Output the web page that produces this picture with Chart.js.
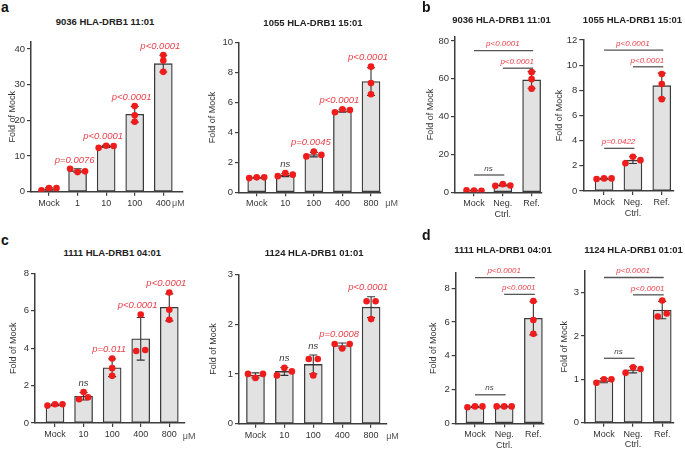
<!DOCTYPE html>
<html>
<head>
<meta charset="utf-8">
<script src="https://cdn.jsdelivr.net/npm/chart.js@4.4.0/dist/chart.umd.min.js"></script>
<style>
  html, body { margin:0; padding:0; background:#fff; }
  body { width:685px; height:449px; position:relative; overflow:hidden;
         font-family:"Liberation Sans", Arial, Helvetica, sans-serif; }
  .cv { position:absolute; }
  .ttl { position:absolute; transform:translate(-50%,-50%); white-space:nowrap;
         font-weight:bold; font-size:9.5px; line-height:1; color:#222; }
  .let { position:absolute; font-weight:bold; font-size:14px; line-height:1; color:#111; }
  .unit { position:absolute; transform:translate(-50%,-50%); white-space:nowrap;
          font-size:9px; line-height:1; color:#555; }
</style>
</head>
<body>
<script>
// ================= DATA =================
// Panel a – dose response
const a1Title = '9036 HLA-DRB1 11:01';
const a1Categories = ['Mock', '1', '10', '100', '400'];
const a1Means = [0.8, 5.9, 12.7, 21.7, 35.9];
const a1SD = [0.3, 0.5, 0.3, 2.2, 2.35];
const a1Replicates = [[0.4, 1.0, 1.0], [6.4, 5.5, 5.7], [12.3, 12.9, 12.8], [24.0, 21.4, 19.6], [38.3, 36.8, 33.6]];
const a1PLabels = ['', 'p=0.0076', 'p<0.0001', 'p<0.0001', 'p<0.0001'];
const a1YTicks = [0, 10, 20, 30, 40];

const a2Title = '1055 HLA-DRB1 15:01';
const a2Categories = ['Mock', '10', '100', '400', '800'];
const a2Means = [0.98, 1.15, 2.52, 5.45, 7.4];
const a2SD = [0.03, 0.1, 0.15, 0.1, 0.93];
const a2Replicates = [[0.95, 1.0, 1.0], [1.08, 1.28, 1.18], [2.4, 2.72, 2.5], [5.35, 5.55, 5.5], [8.4, 7.3, 6.55]];
const a2PLabels = ['', 'ns', 'p=0.0045', 'p<0.0001', 'p<0.0001'];
const a2YTicks = [0, 2, 4, 6, 8, 10];

// Panel b – controls
const bCategories = ['Mock', ['Neg.', 'Ctrl.'], 'Ref.'];
const b1Title = '9036 HLA-DRB1 11:01';
const b1Means = [0.9, 3.8, 59.4];
const b1SD = [0.1, 0.45, 4.4];
const b1Replicates = [[1.0, 0.9, 0.8], [3.4, 4.3, 3.6], [63.5, 59.8, 54.8]];
const b1Comparisons = [[0, 2, 74.9, 'p<0.0001'], [1, 2, 65.6, 'p<0.0001'], [0, 1, 9.15, 'ns']];
const b1YTicks = [0, 20, 40, 60, 80];

const b2Title = '1055 HLA-DRB1 15:01';
const b2Means = [0.98, 2.45, 8.37];
const b2SD = [0.03, 0.27, 1.0];
const b2Replicates = [[0.95, 1.0, 1.0], [2.2, 2.72, 2.45], [9.3, 8.5, 7.3]];
const b2Comparisons = [[0, 2, 11.19, 'p<0.0001'], [1, 2, 9.87, 'p<0.0001'], [0, 1, 3.39, 'p=0.0422']];
const b2YTicks = [0, 2, 4, 6, 8, 10, 12];

// Panel c – dose response
const c1Title = '1111 HLA-DRB1 04:01';
const c1Categories = ['Mock', '10', '100', '400', '800'];
const c1Means = [0.97, 1.43, 2.95, 4.5, 6.18];
const c1SD = [0.04, 0.2, 0.47, 1.14, 0.72];
const c1Replicates = [[0.93, 1.0, 1.0], [1.27, 1.65, 1.37], [3.45, 2.93, 2.52], [5.8, 3.85, 3.9], [6.97, 6.05, 5.52]];
const c1PLabels = ['', 'ns', 'p=0.011', 'p<0.0001', 'p<0.0001'];
const c1YTicks = [0, 2, 4, 6, 8];

const c2Title = '1124 HLA-DRB1 01:01';
const c2Categories = ['Mock', '10', '100', '400', '800'];
const c2Means = [0.97, 1.05, 1.19, 1.57, 2.34];
const c2SD = [0.05, 0.08, 0.19, 0.05, 0.21];
const c2Replicates = [[1.0, 0.92, 1.0], [0.97, 1.12, 1.05], [1.3, 0.97, 1.3], [1.6, 1.51, 1.6], [2.46, 2.1, 2.46]];
const c2PLabels = ['', 'ns', 'ns', 'p=0.0008', 'p<0.0001'];
const c2YTicks = [0, 1, 2, 3];

// Panel d – controls
const d1Title = '1111 HLA-DRB1 04:01';
const d1Means = [0.98, 1.0, 6.22];
const d1SD = [0.03, 0.02, 0.98];
const d1Replicates = [[0.95, 1.0, 1.0], [1.0, 1.0, 1.0], [7.25, 6.12, 5.3]];
const d1Comparisons = [[0, 2, 8.63, 'p<0.0001'], [1, 2, 7.64, 'p<0.0001'], [0, 1, 1.69, 'ns']];
const d1YTicks = [0, 2, 4, 6, 8];

const d2Title = '1124 HLA-DRB1 01:01';
const d2Means = [0.97, 1.22, 2.6];
const d2SD = [0.05, 0.07, 0.2];
const d2Replicates = [[0.92, 1.0, 1.0], [1.15, 1.28, 1.24], [2.45, 2.82, 2.52]];
const d2Comparisons = [[0, 2, 3.35, 'p<0.0001'], [1, 2, 2.95, 'p<0.0001'], [0, 1, 1.486, 'ns']];
const d2YTicks = [0, 1, 2, 3];

const yAxisTitle = 'Fold of Mock';
const doseUnit = 'μM';

// ================= LAYOUT (page pixels) =================
const LAYOUT = {
  a1: {canvas:[7,30,200,215],   area:[31,41.9,183,191.7],    yMax:42,   xMin:-0.63, xMax:4.69, title:[105,21.7],   unit:[178.3,202.5]},
  a2: {canvas:[207,30,400,215], area:[239,42.7,381,192.3],   yMax:10,   xMin:-0.62, xMax:4.35, title:[313,23.3],   unit:[391.7,202.5]},
  b1: {canvas:[425,25,556,225], area:[455,36.6,541.7,192.3], yMax:82.3, xMin:-0.66, xMax:2.35, title:[501.5,20]},
  b2: {canvas:[554,25,685,225], area:[583.3,40,673.3,191],   yMax:12,   xMin:-0.72, xMax:2.40, title:[632.5,20]},
  c1: {canvas:[8,262,205,449],  area:[35,273.3,185,423],     yMax:8,    xMin:-0.70, xMax:4.55, title:[112.3,253.3], unit:[189.2,435.5]},
  c2: {canvas:[208,262,405,449],area:[239,274.3,386.7,423.7],yMax:3,    xMin:-0.57, xMax:4.54, title:[314.2,253.3], unit:[392.5,435.5]},
  d1: {canvas:[428,258,556,449],area:[455.7,273.1,543.3,423.3],yMax:8.9,xMin:-0.66, xMax:2.34, title:[503,250]},
  d2: {canvas:[559,258,685,449],area:[585,271,673.3,422.7],  yMax:3.5,  xMin:-0.65, xMax:2.38, title:[633.5,250]}
};
const LETTERS = [['a',1,12],['b',422,12],['c',1,245],['d',422,240]];

// ================= RENDERING =================
Chart.defaults.font.family = '"Liberation Sans", Arial, Helvetica, sans-serif';
Chart.defaults.color = '#333';
const AXIS = '#3d3d3d';
const FONT = '"Liberation Sans", Arial, sans-serif';

// overlapping replicate points are spread sideways (pixel offsets)
function swarm(vals, pxPerUnit) {
  const order = vals.map((v, i) => i).sort((a, b) => vals[a] - vals[b]);
  const clusters = []; let cur = [order[0]];
  for (let k = 1; k < order.length; k++) {
    if ((vals[order[k]] - vals[order[k - 1]]) * pxPerUnit < 5) cur.push(order[k]);
    else { clusters.push(cur); cur = [order[k]]; }
  }
  clusters.push(cur);
  const off = vals.map(() => 0);
  clusters.forEach(c => {
    c.sort((a, b) => a - b);
    const n = c.length, d = n === 2 ? 9 : 7.5;
    c.forEach((id, j) => { off[id] = (j - (n - 1) / 2) * d; });
  });
  return off;
}

function addText(cls, text, x, y) {
  const el = document.createElement('div');
  el.className = cls; el.textContent = text;
  el.style.left = x + 'px'; el.style.top = y + 'px';
  document.body.appendChild(el);
}

function makePanel(p) {
  const L = p.layout;
  const [cl, ct, cr, cb] = L.canvas;
  const [al, at, ar, ab] = L.area;
  const W = cr - cl, H = cb - ct;
  const cv = document.createElement('canvas');
  cv.className = 'cv'; cv.width = W; cv.height = H;
  cv.style.left = cl + 'px'; cv.style.top = ct + 'px';
  cv.style.width = W + 'px'; cv.style.height = H + 'px';
  document.body.appendChild(cv);

  const pxPerUnit = (ab - at) / L.yMax;
  const pxPerCat = (ar - al) / (L.xMax - L.xMin);
  const bars = p.means.map((m, i) => ({x: i, y: m}));
  const dots = [];
  p.reps.forEach((vals, i) => {
    const off = swarm(vals, pxPerUnit);
    vals.forEach((v, k) => dots.push({x: i + off[k] / pxPerCat, y: v}));
  });

  const overlay = {
    id: 'overlay',
    afterDatasetDraw(chart, args) {
      if (args.meta.type !== 'bar') return;
      const {ctx} = chart; const xs = chart.scales.x, ys = chart.scales.y;
      ctx.save();
      ctx.strokeStyle = '#333'; ctx.lineWidth = 1.1;
      p.means.forEach((m, i) => {
        const px = xs.getPixelForValue(i);
        const y1 = ys.getPixelForValue(m + p.sd[i]);
        const y2 = ys.getPixelForValue(Math.max(0, m - p.sd[i]));
        ctx.beginPath();
        ctx.moveTo(px, y1); ctx.lineTo(px, y2);
        ctx.moveTo(px - 4, y1); ctx.lineTo(px + 4, y1);
        ctx.moveTo(px - 4, y2); ctx.lineTo(px + 4, y2);
        ctx.stroke();
      });
      ctx.restore();
    },
    afterDraw(chart) {
      const {ctx} = chart; const xs = chart.scales.x, ys = chart.scales.y;
      ctx.save();
      ctx.textAlign = 'center'; ctx.textBaseline = 'middle';
      if (p.labels) {
        ctx.font = 'italic 9.5px ' + FONT;
        p.labels.forEach((t, i) => {
          if (!t) return;
          const top = Math.max(...p.reps[i], p.means[i] + p.sd[i]);
          const px = xs.getPixelForValue(i) + (t[0] === 'p' ? -3 : 0);
          const py = ys.getPixelForValue(top) - 9;
          ctx.fillStyle = t === 'ns' ? '#3a3a3a' : '#e8434b';
          ctx.fillText(t, px, py);
        });
      }
      if (p.comps) {
        p.comps.forEach(([a, b, v, t]) => {
          const x1 = xs.getPixelForValue(a), x2 = xs.getPixelForValue(b);
          const py = ys.getPixelForValue(v);
          ctx.strokeStyle = '#555'; ctx.lineWidth = 1.3;
          ctx.beginPath(); ctx.moveTo(x1, py); ctx.lineTo(x2 + 1.5, py); ctx.stroke();
          ctx.font = 'italic 8px ' + FONT;
          ctx.fillStyle = t === 'ns' ? '#444' : '#e8434b';
          ctx.fillText(t, (x1 + x2) / 2, py - 6.5);
        });
      }
      ctx.restore();
    }
  };

  new Chart(cv, {
    type: 'bar',
    data: {
      datasets: [
        {type: 'bar', data: bars, backgroundColor: '#e2e2e2', borderColor: '#3a3a3a',
         borderWidth: 1.3, borderSkipped: false, barThickness: 18, order: 1},
        {type: 'scatter', data: dots, pointRadius: 3.3, pointHoverRadius: 3.3,
         pointBackgroundColor: '#f01c1c', pointBorderWidth: 0, order: 0}
      ]
    },
    options: {
      responsive: false, animation: false, devicePixelRatio: 1, events: [],
      layout: {autoPadding: false, padding: {left: 0, top: at - ct, right: cr - ar, bottom: 0}},
      plugins: {legend: {display: false}, tooltip: {enabled: false}, title: {display: false}},
      scales: {
        x: {
          type: 'linear', position: 'bottom', min: L.xMin, max: L.xMax, offset: false,
          afterFit: s => { s.height = cb - ab; },
          afterBuildTicks: s => { s.ticks = p.categories.map((c, i) => ({value: i})); },
          grid: {offset: false, drawOnChartArea: false, drawTicks: true, tickLength: 4, color: AXIS, lineWidth: 1.2},
          border: {display: true, color: AXIS, width: 1.5},
          ticks: {autoSkip: false, maxRotation: 0, minRotation: 0, padding: 2, color: '#333',
                  font: {size: 9}, callback: v => p.categories[v]}
        },
        y: {
          type: 'linear', position: 'left', min: 0, max: L.yMax,
          afterFit: s => { s.width = al - cl; },
          afterBuildTicks: s => { s.ticks = p.yTicks.map(v => ({value: v})); },
          grid: {drawOnChartArea: false, drawTicks: true, tickLength: 4, color: AXIS, lineWidth: 1.2},
          border: {display: true, color: AXIS, width: 1.5},
          ticks: {padding: 2, color: '#333', font: {size: 9.5}},
          title: {display: true, text: yAxisTitle, color: '#333', font: {size: 9}, padding: 0}
        }
      }
    },
    plugins: [overlay]
  });

  addText('ttl', p.title, L.title[0], L.title[1]);
  if (L.unit) addText('unit', doseUnit, L.unit[0], L.unit[1]);
}

const PANELS = [
  {layout: LAYOUT.a1, title: a1Title, categories: a1Categories, means: a1Means, sd: a1SD, reps: a1Replicates, labels: a1PLabels, yTicks: a1YTicks},
  {layout: LAYOUT.a2, title: a2Title, categories: a2Categories, means: a2Means, sd: a2SD, reps: a2Replicates, labels: a2PLabels, yTicks: a2YTicks},
  {layout: LAYOUT.b1, title: b1Title, categories: bCategories, means: b1Means, sd: b1SD, reps: b1Replicates, comps: b1Comparisons, yTicks: b1YTicks},
  {layout: LAYOUT.b2, title: b2Title, categories: bCategories, means: b2Means, sd: b2SD, reps: b2Replicates, comps: b2Comparisons, yTicks: b2YTicks},
  {layout: LAYOUT.c1, title: c1Title, categories: c1Categories, means: c1Means, sd: c1SD, reps: c1Replicates, labels: c1PLabels, yTicks: c1YTicks},
  {layout: LAYOUT.c2, title: c2Title, categories: c2Categories, means: c2Means, sd: c2SD, reps: c2Replicates, labels: c2PLabels, yTicks: c2YTicks},
  {layout: LAYOUT.d1, title: d1Title, categories: bCategories, means: d1Means, sd: d1SD, reps: d1Replicates, comps: d1Comparisons, yTicks: d1YTicks},
  {layout: LAYOUT.d2, title: d2Title, categories: bCategories, means: d2Means, sd: d2SD, reps: d2Replicates, comps: d2Comparisons, yTicks: d2YTicks}
];
PANELS.forEach(makePanel);

LETTERS.forEach(([t, x, base]) => {
  const el = document.createElement('div');
  el.className = 'let'; el.textContent = t;
  el.style.left = x + 'px'; el.style.top = (base - 11.85) + 'px';
  document.body.appendChild(el);
});
</script>
</body>
</html>
